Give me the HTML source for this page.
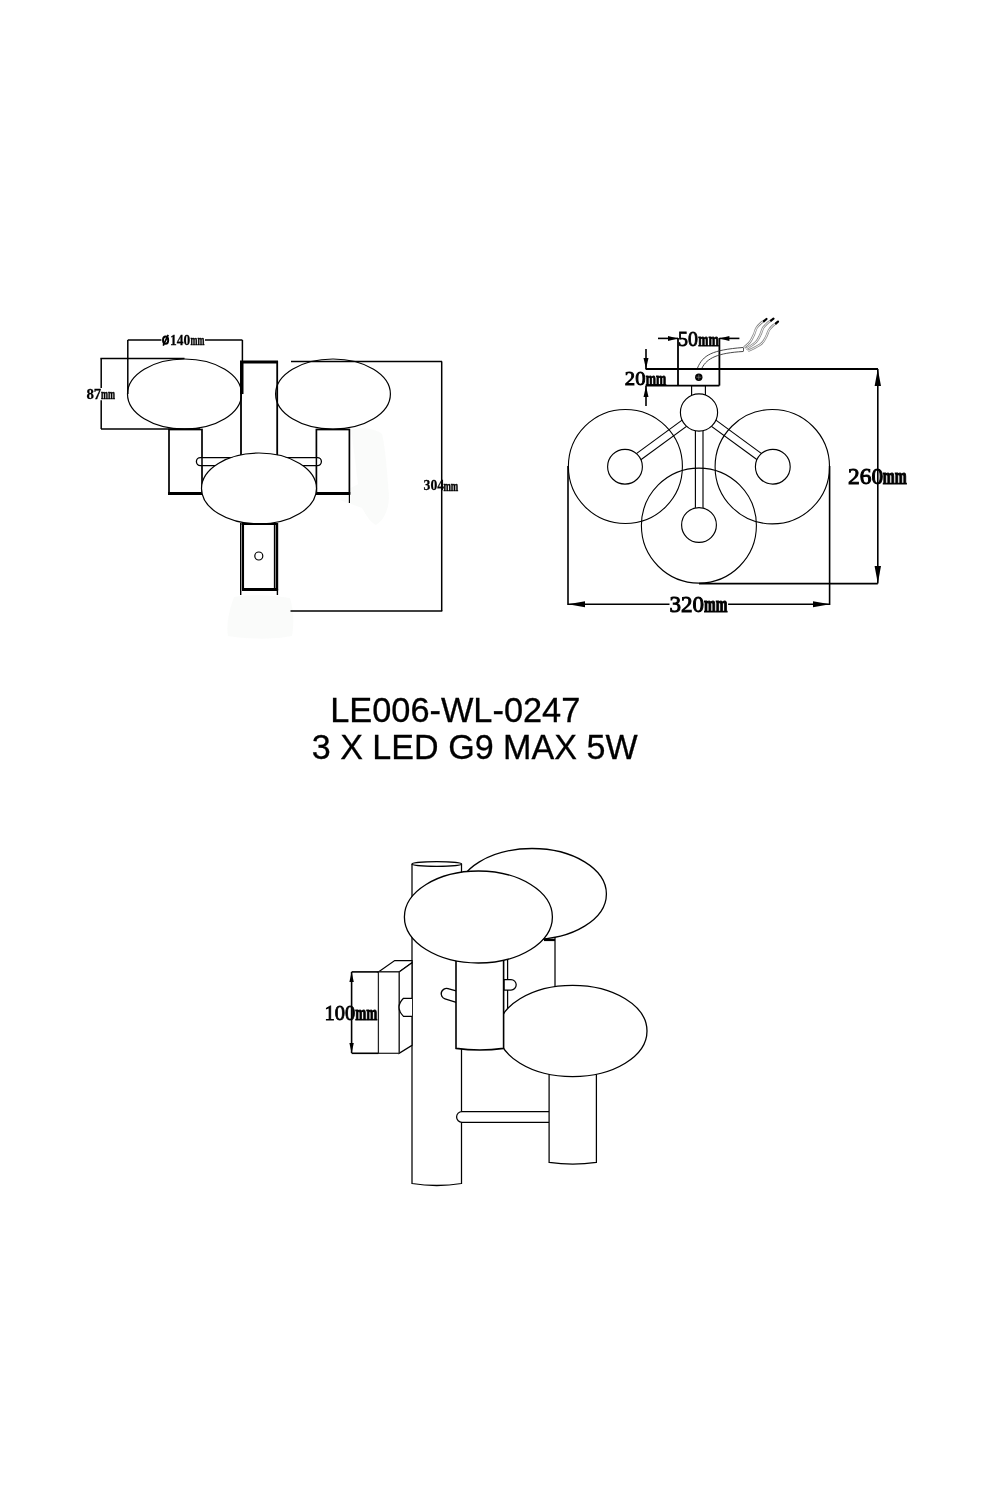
<!DOCTYPE html>
<html><head><meta charset="utf-8">
<style>
html,body{margin:0;padding:0;background:#fff;}
body{width:1000px;height:1500px;overflow:hidden;position:relative;}
svg{position:absolute;left:0;top:0;will-change:transform;}
.t{font-family:"Liberation Sans",sans-serif;font-size:36px;fill:#000;}
.d{font-family:"Liberation Serif",serif;fill:#000;}
</style></head><body>
<svg width="1000" height="1500" viewBox="0 0 1000 1500">
<rect width="1000" height="1500" fill="#fff"/>
<g fill="#f6f8f6" stroke="none" opacity="0.55">
<path d="M351,430 C360,427 375,428 382,434 C385,445 387,470 389,495 C389,510 384,520 376,525 C370,522 366,515 362,508 C355,505 346,503 340,500 C342,490 352,488 358,484 C356,468 354,450 351,430 Z"/>
<path d="M234,597 C248,594 275,595 290,598 C294,610 294,625 292,636 C270,640 248,639 228,636 C226,625 229,610 234,597 Z"/>
</g>
<g fill="none" stroke="#000" stroke-width="1.4">

<line x1="127.8" y1="340.1" x2="242.4" y2="340.1" stroke-width="1.5"/>
<line x1="127.8" y1="340" x2="127.8" y2="394" stroke-width="1.5"/>
<line x1="242.4" y1="340" x2="242.4" y2="362" stroke-width="1.5"/>
<line x1="101.2" y1="358.5" x2="101.2" y2="429" stroke-width="1.5"/>
<line x1="100.4" y1="358.5" x2="184.5" y2="358.5" stroke-width="1.5"/>
<line x1="101" y1="429" x2="200" y2="429" stroke-width="1.5"/>
<rect x="241" y="362" width="36.2" height="100" fill="#fff" stroke-width="1.8"/>
<line x1="240" y1="362" x2="278" y2="362" stroke-width="3"/>
<line x1="241.8" y1="362" x2="241.8" y2="394" stroke-width="3.4"/>
<ellipse cx="184.5" cy="394" rx="57" ry="35" stroke-width="1.2"/>
<ellipse cx="333" cy="394" rx="57.4" ry="35" stroke-width="1.2"/>
<line x1="291" y1="361.4" x2="442" y2="361.4" stroke-width="1.5"/>
<line x1="441.7" y1="361.4" x2="441.7" y2="611" stroke-width="1.5"/>
<line x1="290.5" y1="611" x2="442.3" y2="611" stroke-width="1.5"/>
<rect x="169" y="429.5" width="33" height="64" stroke-width="1.7"/>
<line x1="168" y1="493.5" x2="203" y2="493.5" stroke-width="3"/>
<rect x="316.4" y="429.5" width="33" height="64" stroke-width="1.7"/>
<line x1="315.5" y1="493.5" x2="350.3" y2="493.5" stroke-width="3"/>
<line x1="349.4" y1="494" x2="349.4" y2="503" stroke-width="1.2"/>
<rect x="196.4" y="457.6" width="125" height="8" rx="4" ry="4" fill="#fff" stroke-width="1.3"/>
<line x1="202" y1="457.6" x2="202" y2="465.6" stroke-width="1.5"/>
<line x1="316.4" y1="457.6" x2="316.4" y2="465.6" stroke-width="1.5"/>
<ellipse cx="259" cy="488.5" rx="57.5" ry="35.5" fill="#fff" stroke-width="1.2"/>
<line x1="240.7" y1="523" x2="240.7" y2="595" stroke-width="1.4"/>
<line x1="243" y1="524" x2="243" y2="590" stroke-width="2.1"/>
<line x1="274.5" y1="524" x2="274.5" y2="589" stroke-width="1.3"/>
<line x1="276.9" y1="523" x2="276.9" y2="590.5" stroke-width="2.6"/>
<line x1="277.4" y1="589" x2="277.4" y2="595" stroke-width="1.4"/>
<line x1="241.5" y1="524" x2="278" y2="524" stroke-width="2.2"/>
<line x1="242" y1="589.4" x2="278" y2="589.4" stroke-width="3"/>
<circle cx="258.8" cy="556" r="4" stroke-width="1.2"/>

</g>
<rect x="161.40" y="334.20" width="43.60" height="12.50" fill="#fff"/><text class="d" font-weight="bold" font-size="15.190" stroke="#000" stroke-width="0.25" transform="translate(169.93,345.43) scale(0.8897,1)">140</text><text class="d" font-weight="bold" font-size="14.856" stroke="#000" stroke-width="0.50" transform="translate(190.62,345.45) scale(0.5608,1)">mm</text>
<ellipse cx="165.6" cy="340.2" rx="2.6" ry="3.7" fill="none" stroke="#000" stroke-width="1.9"/><line x1="163.2" y1="345.6" x2="168.2" y2="334.8" stroke="#000" stroke-width="1.7"/>
<rect x="86.25" y="388.00" width="29.25" height="12.25" fill="#fff"/><text class="d" font-weight="bold" font-size="14.819" stroke="#000" stroke-width="0.25" transform="translate(86.38,398.98) scale(1.0021,1)">87</text><text class="d" font-weight="bold" font-size="14.325" stroke="#000" stroke-width="0.50" transform="translate(100.92,399.00) scale(0.5895,1)">mm</text>
<text class="d" font-weight="bold" font-size="15.190" stroke="#000" stroke-width="0.25" transform="translate(423.60,490.48) scale(0.9015,1)">304</text><text class="d" font-weight="bold" font-size="14.325" stroke="#000" stroke-width="0.50" transform="translate(443.42,490.50) scale(0.6211,1)">mm</text>
<g fill="none" stroke="#000" stroke-width="1.15">

<line x1="696.75" y1="409.4" x2="622.75" y2="463.6"/>
<line x1="701.2" y1="415.6" x2="627.2" y2="469.8"/>
<line x1="701.25" y1="409.4" x2="775.25" y2="463.6"/>
<line x1="696.8" y1="415.6" x2="770.8" y2="469.8"/>
<line x1="695.4" y1="412.5" x2="695.4" y2="525"/>
<line x1="703" y1="412.5" x2="703" y2="525"/>
<rect x="691.6" y="385.6" width="13.8" height="12" fill="#fff"/>
<circle cx="699" cy="412.5" r="18.6" fill="#fff"/>
<circle cx="625" cy="466.7" r="17.4" fill="#fff"/>
<circle cx="772.8" cy="466.7" r="17.4" fill="#fff"/>
<circle cx="699" cy="525" r="17.4" fill="#fff"/>
<circle cx="625.4" cy="466.5" r="57" stroke-width="1.1"/>
<circle cx="772.3" cy="466.7" r="57.2" stroke-width="1.1"/>
<circle cx="698.9" cy="525.6" r="57.5" stroke-width="1.1"/>
<line x1="678" y1="338" x2="678" y2="385.6" stroke-width="1.8"/>
<line x1="719.4" y1="338" x2="719.4" y2="385.6" stroke-width="1.8"/>
<line x1="645.6" y1="369" x2="878" y2="369" stroke-width="2"/>
<line x1="645.6" y1="385.6" x2="719.4" y2="385.6" stroke-width="1.8"/>
<line x1="658" y1="338.4" x2="678" y2="338.4" stroke-width="1.6"/>
<line x1="719.4" y1="338.4" x2="739.4" y2="338.4" stroke-width="1.6"/>
<line x1="646" y1="349" x2="646" y2="369" stroke-width="1.6"/>
<line x1="646" y1="386" x2="646" y2="406" stroke-width="1.6"/>
<line x1="568" y1="604.2" x2="830" y2="604.2" stroke-width="1.6"/>
<line x1="568" y1="466" x2="568" y2="605" stroke-width="1.6"/>
<line x1="829.6" y1="466" x2="829.6" y2="605" stroke-width="1.6"/>
<line x1="877.8" y1="369" x2="877.8" y2="583.4" stroke-width="1.6"/>
<line x1="699" y1="583.6" x2="877.8" y2="583.6" stroke-width="1.8"/>

<g stroke="#333" stroke-width="0.9">
<path d="M697.5,368 C703,355 712,350 743,347.5"/>
<path d="M702,368 C707,358 718,353 743,351.5"/>
<line x1="743.5" y1="347.5" x2="743.5" y2="351.5" stroke="#555" stroke-width="1"/>
</g>
<g stroke="#8c8c8c" stroke-width="2.4"><path d="M744,347.5 C745.00,346.58 748.33,344.17 750,342 C751.67,339.83 752.92,336.83 754,334.5 C755.08,332.17 755.33,329.92 756.5,328 C757.67,326.08 759.67,324.20 761,323 C762.33,321.80 763.92,321.17 764.5,320.8"/><path d="M746,349 C747.67,347.83 753.58,344.42 756,342 C758.42,339.58 759.33,336.83 760.5,334.5 C761.67,332.17 761.92,329.83 763,328 C764.08,326.17 765.58,324.80 767,323.5 C768.42,322.20 770.75,320.75 771.5,320.2"/><path d="M748,351 C750.17,349.83 758.00,346.33 761,344 C764.00,341.67 764.67,339.33 766,337 C767.33,334.67 767.83,331.92 769,330 C770.17,328.08 771.75,326.67 773,325.5 C774.25,324.33 775.92,323.42 776.5,323"/></g>
<g stroke="#fff" stroke-width="0.9"><path d="M744,347.5 C745.00,346.58 748.33,344.17 750,342 C751.67,339.83 752.92,336.83 754,334.5 C755.08,332.17 755.33,329.92 756.5,328 C757.67,326.08 759.67,324.20 761,323 C762.33,321.80 763.92,321.17 764.5,320.8"/><path d="M746,349 C747.67,347.83 753.58,344.42 756,342 C758.42,339.58 759.33,336.83 760.5,334.5 C761.67,332.17 761.92,329.83 763,328 C764.08,326.17 765.58,324.80 767,323.5 C768.42,322.20 770.75,320.75 771.5,320.2"/><path d="M748,351 C750.17,349.83 758.00,346.33 761,344 C764.00,341.67 764.67,339.33 766,337 C767.33,334.67 767.83,331.92 769,330 C770.17,328.08 771.75,326.67 773,325.5 C774.25,324.33 775.92,323.42 776.5,323"/></g>
</g>
<g fill="#000" stroke="none">
<polygon points="678,338.4 668,335.9 668,340.9"/>
<polygon points="719.4,338.4 729.4,335.9 729.4,340.9"/>
<polygon points="646,369 643.5,358 648.5,358"/>
<polygon points="646,386 643.5,397 648.5,397"/>
<polygon points="568,604.2 585,601.2 585,607.2"/>
<polygon points="830,604.2 813,601.2 813,607.2"/>
<polygon points="877.8,369 874.6,386 881,386"/>
<polygon points="877.8,583.4 874.6,566 881,566"/>
<circle cx="698.8" cy="377.2" r="3.7"/>
</g>
<g stroke="#000" stroke-width="2.2" stroke-linecap="round">
<line x1="764" y1="321.2" x2="766.5" y2="319"/>
<line x1="771" y1="320.6" x2="773.5" y2="318.6"/>
<line x1="776" y1="323.4" x2="778" y2="321.6"/>
</g>
<line x1="696.3" y1="377.2" x2="701.3" y2="377.2" stroke="#888" stroke-width="0.7"/>
<line x1="698.8" y1="374.7" x2="698.8" y2="379.7" stroke="#888" stroke-width="0.7"/>

<text class="d" font-weight="normal" font-size="21.191" stroke="#000" stroke-width="0.90" transform="translate(678.09,346.34) scale(0.9404,1)">50</text><text class="d" font-weight="bold" font-size="19.313" stroke="#000" stroke-width="0.90" transform="translate(698.16,346.05) scale(0.6356,1)">mm</text>
<text class="d" font-weight="normal" font-size="19.709" stroke="#000" stroke-width="0.90" transform="translate(624.79,384.76) scale(1.0504,1)">20</text><text class="d" font-weight="bold" font-size="19.313" stroke="#000" stroke-width="0.90" transform="translate(645.66,384.95) scale(0.6356,1)">mm</text>
<text class="d" font-weight="normal" font-size="23.414" stroke="#000" stroke-width="1.00" transform="translate(848.09,483.67) scale(0.9991,1)">260</text><text class="d" font-weight="bold" font-size="23.345" stroke="#000" stroke-width="1.20" transform="translate(882.80,484.10) scale(0.6163,1)">mm</text>
<rect x="669.50" y="595.20" width="58.60" height="18.80" fill="#fff"/><text class="d" font-weight="normal" font-size="23.414" stroke="#000" stroke-width="1.00" transform="translate(669.40,612.27) scale(0.9842,1)">320</text><text class="d" font-weight="bold" font-size="22.072" stroke="#000" stroke-width="1.20" transform="translate(704.02,612.40) scale(0.6371,1)">mm</text>
<text class="t" stroke="#000" stroke-width="0.3" transform="translate(330.18,722.0) scale(0.9595,1)" x="0" y="0" style="font-size:35.8px">LE006-WL-0247</text>
<text class="t" stroke="#000" stroke-width="0.3" transform="translate(311.70,759.0) scale(0.9855,1)" x="0" y="0" style="font-size:34.6px">3 X LED G9 MAX 5W</text>
<g fill="#fff" stroke="#000" stroke-width="1.25">

<rect x="507.6" y="925" width="47.4" height="90"/>
<ellipse cx="532" cy="894" rx="74.4" ry="45.5" stroke-width="1.3"/>
<line x1="544" y1="940" x2="555" y2="940" stroke-width="2.2"/>
<path d="M504,979.6 H511 A5.2,5.2 0 0 1 511,990 H504 Z"/>
<path d="M412,864 V1183.5 Q436.8,1187.5 461.5,1183.5 V864"/>
<ellipse cx="436.8" cy="864" rx="24.8" ry="2.4"/>
<path d="M549.1,1111.5 H462 A5.4,5.4 0 0 0 462,1122.3 H549.1"/>
<path d="M549.1,1060 V1162.4 Q572.8,1166 596.4,1162.4 V1060"/>
<ellipse cx="572.6" cy="1031" rx="74.4" ry="45.6" stroke-width="1.3"/>
<polygon points="378.4,971.9 394.7,960.5 412,960.5 412,962.7 399.1,971.9"/>
<polygon points="399.1,971.9 412,962.7 412,1045.3 399.1,1053.3"/>
<rect x="378.4" y="971.9" width="20.7" height="81.4" stroke="#222"/>
<path d="M412,998.3 H403.5 Q394.5,1007.3 403.5,1016.4 H412"/>
<path d="M457,991.2 L448,988.6 A5.3,5.3 0 0 0 445,998.8 L457,1002.6 Z" stroke-width="1.4"/>
<path d="M456,950 V1048.4 Q479.8,1051.5 503.6,1048.4 V950" stroke-width="1.6"/>
<ellipse cx="478.4" cy="917" rx="74" ry="46" stroke-width="1.3"/>

</g>
<g fill="none" stroke="#000" stroke-width="1.6">
<line x1="351.6" y1="971.9" x2="378.4" y2="971.9"/>
<line x1="351.6" y1="1053.3" x2="378.4" y2="1053.3"/>
<line x1="351.6" y1="972" x2="351.6" y2="1053"/>
</g>
<g fill="#000">
<polygon points="351.6,972 349.4,982 353.8,982"/>
<polygon points="351.6,1053 349.4,1043 353.8,1043"/>
</g>
<text class="d" font-weight="normal" font-size="21.488" stroke="#000" stroke-width="0.80" transform="translate(324.44,1020.09) scale(0.9540,1)">100</text><text class="d" font-weight="bold" font-size="21.435" stroke="#000" stroke-width="1.00" transform="translate(355.36,1020.20) scale(0.6173,1)">mm</text>
</svg>
</body></html>
